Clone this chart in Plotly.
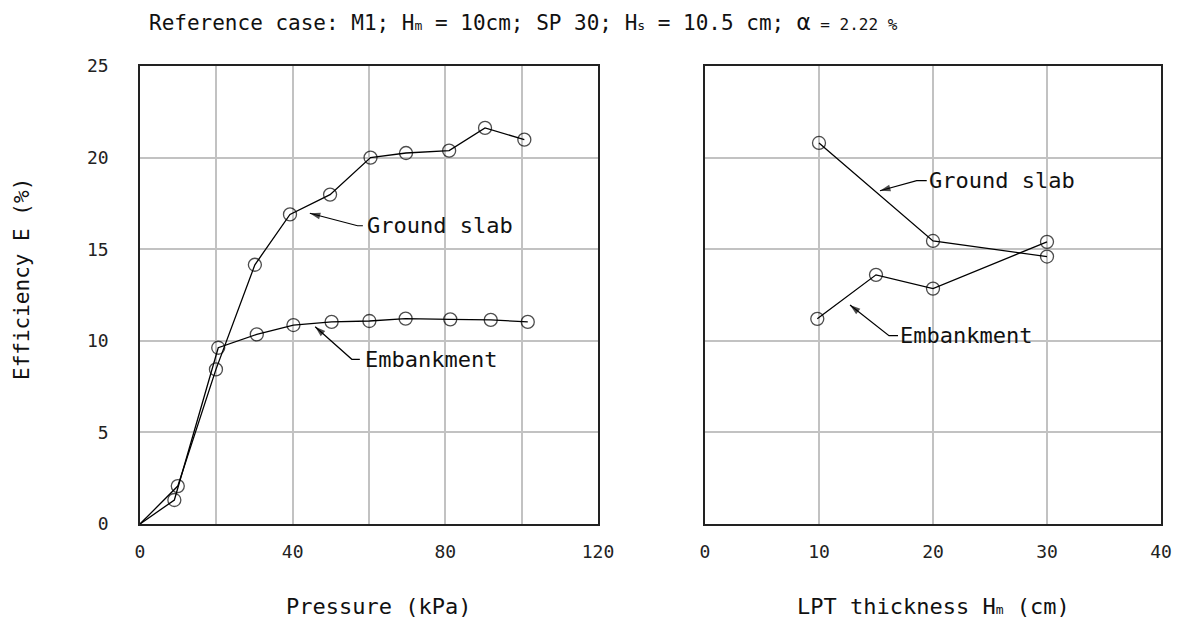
import plotly.graph_objects as go

# ---------------- data ----------------
# Left panel: efficiency vs pressure
gs_pressure = [0, 9.9, 19.9, 30.1, 39.3, 49.8, 60.4, 69.7, 81.0, 90.4, 100.7]
gs_eff_p = [0, 2.07, 8.44, 14.15, 16.9, 17.98, 20.0, 20.25, 20.38, 21.62, 20.98]
em_pressure = [0, 9.0, 20.5, 30.6, 40.2, 50.2, 60.1, 69.6, 81.3, 91.9, 101.6]
em_eff_p = [0, 1.31, 9.62, 10.35, 10.86, 11.03, 11.08, 11.21, 11.17, 11.14, 11.03]

# Right panel: efficiency vs LPT thickness
gs_thick = [10, 20, 30]
gs_eff_t = [20.8, 15.45, 14.6]
em_thick = [9.85, 15, 20, 30]
em_eff_t = [11.2, 13.6, 12.85, 15.4]

y_ticks = [0, 5, 10, 15, 20, 25]
x1_ticks = [0, 40, 80, 120]
x1_minor = [20, 60, 100]
x2_ticks = [0, 10, 20, 30, 40]

FONT = "DejaVu Sans Mono"
W, H = 1179, 619
GRID = "#c2c2c2"

fig = go.Figure()

def marker_sizes(xs):
    return [0 if x == 0 else 13 for x in xs]

for xs, ys, xa in [(gs_pressure, gs_eff_p, "x"), (em_pressure, em_eff_p, "x"),
                   (gs_thick, gs_eff_t, "x2"), (em_thick, em_eff_t, "x2")]:
    fig.add_trace(go.Scatter(
        x=xs, y=ys, xaxis=xa, yaxis="y" if xa == "x" else "y2",
        mode="lines+markers",
        line=dict(color="black", width=1.3),
        marker=dict(symbol="circle-open", size=marker_sizes(xs),
                    color="black", line=dict(width=1.3, color="black")),
        showlegend=False, cliponaxis=False, hoverinfo="skip",
    ))

axis_common = dict(
    showline=True, linecolor="#222", linewidth=1.6, mirror=True,
    showgrid=True, gridcolor=GRID, gridwidth=1.8, zeroline=False,
    tickfont=dict(family=FONT, size=18, color="#222"), ticks="",
    automargin=False,
)

fig.update_layout(
    width=W, height=H,
    margin=dict(l=0, r=0, t=0, b=0, pad=0),
    paper_bgcolor="white", plot_bgcolor="white",
    xaxis=dict(domain=[140 / W, 598 / W], range=[0, 120],
               tickvals=x1_ticks,
               minor=dict(tickvals=x1_minor, showgrid=True,
                          gridcolor=GRID, gridwidth=1.8, ticks=""),
               ticklabelstandoff=11, **axis_common),
    yaxis=dict(domain=[1 - 524 / H, 1 - 66 / H], range=[0, 25],
               tickvals=y_ticks, ticklabelstandoff=26, **axis_common),
    xaxis2=dict(domain=[705 / W, 1161 / W], range=[0, 40], anchor="y2",
                tickvals=x2_ticks, ticklabelstandoff=11, **axis_common),
    yaxis2=dict(domain=[1 - 524 / H, 1 - 66 / H], range=[0, 25], anchor="x2",
                tickvals=y_ticks, showticklabels=False, **axis_common),
)

LBL = dict(family=FONT, size=22, color="#111")

# callouts: (axis, head_x, head_y, tail_x, tail_y, leader_end_x, text_x, text)
callouts = [
    ("x", 44.5, 16.96, 57.0, 16.28, 58.4, 58.9, "Ground slab"),
    ("x", 45.9, 10.77, 55.5, 8.99, 57.6, 58.4, "Embankment"),
    ("x2", 15.35, 18.19, 18.57, 18.74, 19.45, 19.45, "Ground slab"),
    ("x2", 12.72, 11.95, 16.14, 10.28, 16.93, 16.95, "Embankment"),
]
for xa, hx, hy, tx, ty, lx, txx, txt in callouts:
    ya = "y" if xa == "x" else "y2"
    fig.add_trace(go.Scatter(
        x=[lx, tx, hx], y=[ty, ty, hy], xaxis=xa, yaxis=ya,
        mode="lines+markers",
        line=dict(color="black", width=1.2),
        marker=dict(symbol="arrow", size=[0, 0, 11], angleref="previous",
                    color="black", line=dict(width=0)),
        showlegend=False, hoverinfo="skip", cliponaxis=False,
    ))
    fig.add_annotation(x=txx, y=ty, xref=xa, yref=ya, text=txt,
                       showarrow=False, xanchor="left", yanchor="middle",
                       font=LBL)

SUB = "<span style='font-size:13px'>%s</span>"

# title
fig.add_annotation(
    x=147 / W, y=1 - 22 / H, xref="paper", yref="paper",
    xanchor="left", yanchor="middle", showarrow=False,
    text=("Reference case: M1; H" + SUB % "m" + " = 10cm; SP 30; H" + SUB % "s"
          + " = 10.5 cm; "
          "<span style='font-size:23px'>α</span>"
          "<span style='font-size:16px'> = 2.22 %</span>"),
    font=dict(family=FONT, size=21, color="#111"),
)

# axis titles
fig.add_annotation(x=22 / W, y=1 - 279 / H, xref="paper", yref="paper",
                   xanchor="center", yanchor="middle",
                   text="Efficiency E (%)", textangle=-90, showarrow=False,
                   font=dict(family=FONT, size=21, color="#111"))
fig.add_annotation(x=378 / W, y=1 - 606 / H, xref="paper", yref="paper",
                   xanchor="center", yanchor="middle",
                   text="Pressure (kPa)", showarrow=False, font=LBL)
fig.add_annotation(x=933 / W, y=1 - 606 / H, xref="paper", yref="paper",
                   xanchor="center", yanchor="middle",
                   text="LPT thickness H" + SUB % "m" + " (cm)",
                   showarrow=False, font=LBL)

fig.write_html("out.html",
               config={"displayModeBar": False},
               post_script="document.body.style.margin='0px';"
                           "document.body.style.overflow='hidden';")
